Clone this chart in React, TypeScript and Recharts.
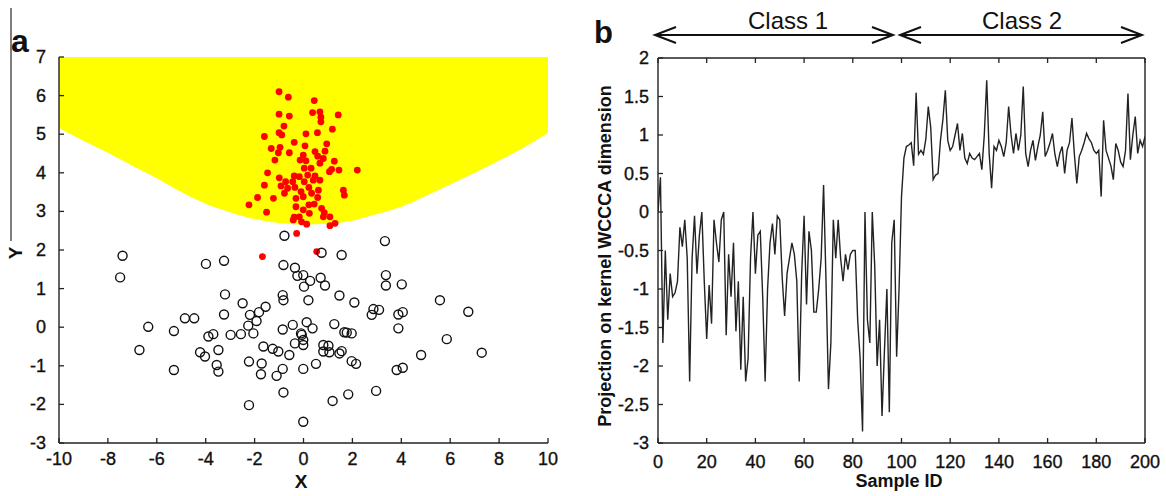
import React from 'react';
import { ComposedChart, LineChart, Line, Area, Scatter, XAxis, YAxis } from 'recharts';

const FONT = '"Liberation Sans", Arial, Helvetica, sans-serif';

// ---- panel a: decision region + two classes ----
const regionX = [-10, -9, -8, -7, -6, -5, -4, -3, -2, -1, 0, 1, 2, 3, 4, 5, 6, 7, 8, 9, 10];
const regionLow = [5.16, 4.83, 4.52, 4.18, 3.86, 3.5, 3.2, 2.98, 2.8, 2.7, 2.66, 2.68, 2.76, 2.93, 3.12, 3.4, 3.7, 4.0, 4.32, 4.65, 5.03];
const regionHigh = 7;

const redPoints: [number, number][] = [
  [-1.0, 6.1], [-0.62, 5.96], [0.44, 5.87], [-1.0, 5.52], [-0.58, 5.47], [0.37, 5.56], [0.67, 5.58],
  [0.71, 5.44], [0.71, 5.32], [1.42, 5.5], [-0.8, 5.21], [-1.0, 5.04], [-0.89, 4.98], [-1.6, 4.94],
  [0.1, 5.01], [0.57, 5.04], [1.18, 5.13], [-0.38, 4.79], [-1.32, 4.63], [-0.96, 4.66], [0.06, 4.7],
  [0.95, 4.75], [-1.03, 4.52], [-0.58, 4.52], [0.47, 4.55], [0.88, 4.56], [-0.01, 4.46], [0.58, 4.43],
  [-1.17, 4.33], [-0.14, 4.33], [0.1, 4.31], [0.81, 4.37], [1.26, 4.3], [0.67, 4.25], [0.03, 4.12],
  [0.31, 4.12], [1.15, 4.09], [-1.47, 4.0], [1.06, 4.03], [1.45, 4.07], [2.2, 4.07], [-0.99, 3.87],
  [-0.38, 3.92], [-0.17, 3.9], [0.17, 3.94], [0.47, 3.92], [0.67, 3.81], [-0.73, 3.77], [-0.44, 3.77],
  [0.03, 3.77], [0.4, 3.81], [-1.6, 3.68], [-0.92, 3.66], [-0.65, 3.6], [-0.35, 3.62], [0.22, 3.62],
  [0.61, 3.55], [1.63, 3.55], [-0.78, 3.47], [-0.1, 3.51], [0.33, 3.47], [1.67, 3.42], [-1.88, 3.36],
  [-1.23, 3.34], [-0.31, 3.34], [-0.01, 3.38], [0.58, 3.36], [-2.23, 3.17], [-0.31, 3.12], [0.22, 3.17],
  [0.44, 3.19], [0.74, 3.08], [-1.51, 2.98], [-0.01, 3.04], [0.24, 2.95], [0.85, 2.97], [-0.38, 2.85],
  [-0.17, 2.86], [0.81, 2.86], [1.08, 2.86], [-0.42, 2.78], [-0.08, 2.73], [0.13, 2.67], [1.08, 2.63],
  [1.29, 2.69], [-0.28, 2.43], [-1.68, 1.83], [0.54, 1.96],
];

const blackPoints: [number, number][] = [
  [-7.4, 1.85], [-7.5, 1.29], [-3.99, 1.64], [-3.25, 1.72], [-0.78, 2.37], [-0.82, 1.61], [-0.35, 1.54],
  [-0.25, 1.33], [-3.21, 0.85], [-2.49, 0.62], [-1.55, 0.53], [-0.85, 0.83], [-0.82, 0.7], [-3.25, 0.33],
  [-2.19, 0.32], [-1.82, 0.39], [-1.92, 0.16], [-2.26, 0.04], [-2.05, -0.16], [-4.85, 0.23], [-4.47, 0.23],
  [-6.35, 0.01], [-5.3, -0.1], [-6.71, -0.59], [-5.3, -1.11], [-3.89, -0.24], [-3.69, -0.18], [-2.98, -0.2],
  [-2.56, -0.18], [-4.23, -0.65], [-4.03, -0.76], [-3.48, -0.59], [-3.55, -0.98], [-3.48, -1.15],
  [-2.23, -0.89], [-1.71, -0.94], [-1.74, -1.22], [-1.64, -0.5], [-1.26, -0.56], [-1.03, -0.63],
  [-0.58, -0.72], [-0.85, -1.08], [-1.1, -1.26], [-0.82, -1.69], [-2.23, -2.02], [-0.85, -0.06],
  [-0.44, 0.06], [-0.1, -0.16], [-0.35, -0.42],
  [3.33, 2.23], [0.74, 1.93], [1.56, 1.87], [-0.01, 1.35], [0.27, 1.2], [0.7, 1.28], [0.88, 1.08],
  [0.02, 1.05], [3.37, 1.35], [3.37, 1.08], [4.02, 1.11], [0.2, 0.7], [1.47, 0.82], [2.08, 0.64],
  [2.86, 0.47], [3.09, 0.45], [2.79, 0.32], [3.88, 0.33], [4.06, 0.39], [3.88, -0.03], [5.58, 0.7],
  [6.74, 0.4], [0.13, 0.13], [0.37, -0.03], [1.26, 0.08], [1.67, -0.13], [1.77, -0.14], [1.97, -0.16],
  [-0.07, -0.2], [-0.01, -0.33], [-0.01, -0.46], [0.81, -0.46], [1.02, -0.48], [0.81, -0.63], [1.06, -0.65],
  [1.47, -0.68], [1.56, -0.62], [5.86, -0.31], [7.29, -0.66], [4.81, -0.72], [-0.01, -1.08], [0.51, -0.95],
  [1.97, -0.88], [2.15, -0.95], [3.81, -1.11], [4.06, -1.05], [2.97, -1.65], [1.83, -1.74], [1.19, -1.91],
  [-0.01, -2.45],
];

const xTicksA = [-10, -8, -6, -4, -2, 0, 2, 4, 6, 8, 10];
const yTicksA = [-3, -2, -1, 0, 1, 2, 3, 4, 5, 6, 7];

// ---- panel b: projection per sample ----
const class1Proj = [
  0.0, 0.45, -1.7, -0.5, -1.4, -0.8, -1.1, -1.05, -0.9, -0.2,
  -0.45, -0.1, -0.6, -2.2, -0.6, -0.05, -0.8, -0.3, 0.0, -0.9,
  -1.65, -0.95, -1.45, -0.1, -0.4, -0.65, -0.1, 0.0, -1.6, -0.55,
  -1.1, -0.4, -1.55, -0.9, -2.05, -1.1, -2.2, -1.9, -0.6, 0.0,
  -0.8, -0.3, -0.25, -1.1, -2.2, -1.0, -0.4, -0.15, -0.55, -0.05,
  -0.1, -0.85, -1.35, -0.8, -0.6, -0.4, -0.55, -0.9, -2.2, -0.8,
  -0.05, -1.2, -0.25, -0.5, -1.3, -1.3, -1.0, -0.6, 0.35, -0.9,
  -2.3, -1.7, -0.1, -0.6, -0.1, -0.6, -0.9, -0.55, -0.75, -0.55,
  -0.5, -0.5, -1.4, -1.9, -2.85, 0.0, -1.4, -1.7, 0.0, -0.7,
  -2.0, -1.4, -2.65, -1.8, -1.0, -2.6, -0.4, -0.1, -1.88, -1.0,
];
const class2Proj = [
  0.2, 0.7, 0.85, 0.87, 0.9, 0.6, 1.55, 0.75, 0.8, 0.75,
  0.95, 1.37, 1.1, 0.42, 0.48, 0.5, 0.93, 1.2, 1.58, 0.93,
  0.8, 0.85, 1.0, 1.15, 0.8, 1.02, 0.7, 0.63, 0.76, 0.7,
  0.68, 0.72, 0.76, 0.55, 1.0, 1.71, 0.76, 0.31, 0.85, 0.8,
  0.93, 0.85, 0.72, 0.9, 1.37, 1.0, 0.76, 1.02, 0.8, 1.0,
  1.63, 0.76, 0.59, 0.8, 0.93, 0.67, 0.85, 1.0, 1.3, 0.72,
  0.8, 0.9, 1.02, 0.75, 0.59, 0.76, 0.85, 0.5, 0.8, 0.9,
  1.22, 0.75, 0.37, 0.72, 0.8, 0.9, 1.02, 0.95, 0.9, 0.8,
  0.76, 0.8, 0.2, 1.19, 0.8, 0.7, 0.6, 0.42, 0.89, 0.8,
  0.65, 0.59, 0.8, 1.54, 0.68, 1.0, 1.24, 0.76, 0.93, 0.85,
  0.98,
];
const xTicksB = [0, 20, 40, 60, 80, 100, 120, 140, 160, 180, 200];
const yTicksB = [-3, -2.5, -2, -1.5, -1, -0.5, 0, 0.5, 1, 1.5, 2];

const regionData = regionX.map((x, i) => ({ x, low: regionLow[i], high: regionHigh }));
const redData = redPoints.map(([x, y]) => ({ x, y }));
const blackData = blackPoints.map(([x, y]) => ({ x, y }));
const projection = [...class1Proj, ...class2Proj];
const lineData = projection.map((v, i) => ({ id: i, v }));

const AXIS = '#222';
// tick labels look medium-weight in the original, a thin stroke thickens them a bit
const txt = { fontFamily: FONT, fontSize: 18, fill: '#111', stroke: '#111', strokeWidth: 0.35 };

const bottomTick = (gap: number, len: number, label = true) => (p: any) => (
  <g>
    <line x1={p.x} y1={p.y} x2={p.x} y2={p.y - len} stroke={AXIS} strokeWidth={1.3} />
    {label && (
      <text x={p.x} y={p.y + gap} textAnchor="middle" dominantBaseline="central" {...txt}>
        {p.payload.value}
      </text>
    )}
  </g>
);
const leftTick = (gap: number, len: number) => (p: any) => (
  <g>
    <line x1={p.x} y1={p.y} x2={p.x + len} y2={p.y} stroke={AXIS} strokeWidth={1.3} />
    <text x={p.x - gap} y={p.y} textAnchor="end" dominantBaseline="central" {...txt}>
      {p.payload.value}
    </text>
  </g>
);
const topTick = (len: number) => (p: any) => (
  <line x1={p.x} y1={p.y} x2={p.x} y2={p.y + len} stroke={AXIS} strokeWidth={1.3} />
);
const rightTick = (len: number) => (p: any) => (
  <line x1={p.x} y1={p.y} x2={p.x - len} y2={p.y} stroke={AXIS} strokeWidth={1.3} />
);

const RedDot = (p: any) => <circle cx={p.cx} cy={p.cy} r={3.4} fill="#ff0000" />;
const OpenCircle = (p: any) => (
  <circle cx={p.cx} cy={p.cy} r={4.5} fill="none" stroke="#111" strokeWidth={1.4} />
);

function DoubleArrow({ x1, x2, y }: { x1: number; x2: number; y: number }) {
  return (
    <g stroke="#111" strokeWidth={2} fill="none">
      <line x1={x1} y1={y} x2={x2} y2={y} />
      <polyline points={`${x1 + 21},${y - 8} ${x1},${y} ${x1 + 21},${y + 8}`} />
      <polyline points={`${x2 - 21},${y - 8} ${x2},${y} ${x2 - 21},${y + 8}`} />
    </g>
  );
}

export default function App() {
  return (
    <div
      style={{
        position: 'absolute',
        left: 0,
        top: 0,
        width: 1166,
        height: 496,
        background: '#fff',
        overflow: 'hidden',
        fontFamily: FONT,
      }}
    >
      <div style={{ position: 'absolute', left: 0, top: 0 }}>
        <ComposedChart width={560} height={496} data={regionData} margin={{ top: 57, right: 12, left: 0, bottom: 23 }}>
          <XAxis
            type="number"
            dataKey="x"
            domain={[-10, 10]}
            ticks={xTicksA}
            interval={0}
            allowDataOverflow
            height={30}
            tickSize={0}
            tickMargin={0}
            stroke={AXIS}
            strokeWidth={1.4}
            tick={bottomTick(16, 5)}
          />
          <YAxis
            type="number"
            dataKey="y"
            domain={[-3, 7]}
            ticks={yTicksA}
            interval={0}
            allowDataOverflow
            width={59}
            tickSize={0}
            tickMargin={0}
            stroke={AXIS}
            strokeWidth={1.4}
            tick={leftTick(13, 5)}
          />
          <Area
            type="monotone"
            dataKey={(d: any) => [d.low, d.high]}
            stroke="none"
            fill="#ffff00"
            fillOpacity={1}
            isAnimationActive={false}
          />
          <Scatter data={redData} shape={RedDot} isAnimationActive={false} />
          <Scatter data={blackData} shape={OpenCircle} isAnimationActive={false} />
        </ComposedChart>
      </div>

      <div style={{ position: 'absolute', left: 570, top: 0 }}>
        <LineChart width={596} height={496} data={lineData} margin={{ top: 57, right: 20, left: 0, bottom: 23 }}>
          <XAxis
            type="number"
            dataKey="id"
            domain={[0, 200]}
            ticks={xTicksB}
            interval={0}
            allowDataOverflow
            height={30}
            tickSize={0}
            tickMargin={0}
            stroke={AXIS}
            strokeWidth={1.4}
            tick={bottomTick(19, 5)}
          />
          <XAxis
            xAxisId="top"
            orientation="top"
            type="number"
            dataKey="id"
            domain={[0, 200]}
            ticks={xTicksB}
            interval={0}
            height={1}
            tickSize={0}
            tickMargin={0}
            stroke={AXIS}
            strokeWidth={1.4}
            tick={topTick(5)}
          />
          <YAxis
            type="number"
            domain={[-3, 2]}
            ticks={yTicksB}
            interval={0}
            allowDataOverflow
            width={88}
            tickSize={0}
            tickMargin={0}
            stroke={AXIS}
            strokeWidth={1.4}
            tick={leftTick(9, 5)}
          />
          <YAxis
            yAxisId="right"
            orientation="right"
            type="number"
            domain={[-3, 2]}
            ticks={yTicksB}
            interval={0}
            width={1}
            tickSize={0}
            tickMargin={0}
            stroke={AXIS}
            strokeWidth={1.4}
            tick={rightTick(5)}
          />
          <Line
            type="linear"
            dataKey="v"
            stroke="#222"
            strokeWidth={1.4}
            dot={false}
            isAnimationActive={false}
          />
        </LineChart>
      </div>

      <svg width={1166} height={496} style={{ position: 'absolute', left: 0, top: 0, pointerEvents: 'none' }}>
        <line x1={11} y1={8} x2={11} y2={241} stroke="#555" strokeWidth={1.5} />
        <text x={11} y={52} fontFamily={FONT} fontSize={32} fontWeight="bold" fill="#111">a</text>
        <text x={594} y={43} fontFamily={FONT} fontSize={31} fontWeight="bold" fill="#111">b</text>
        <text x={301} y={488} textAnchor="middle" fontFamily={FONT} fontSize={19} fontWeight="bold" fill="#111">X</text>
        <text
          x={0}
          y={0}
          transform="translate(22 253) rotate(-90)"
          textAnchor="middle"
          fontFamily={FONT}
          fontSize={19}
          fontWeight="bold"
          fill="#111"
        >
          Y
        </text>
        <text
          x={0}
          y={0}
          transform="translate(611 256) rotate(-90)"
          textAnchor="middle"
          fontFamily={FONT}
          fontSize={18}
          fontWeight="bold"
          fill="#111"
        >
          Projection on kernel WCCCA dimension
        </text>
        <text x={899} y={487} textAnchor="middle" fontFamily={FONT} fontSize={18} fontWeight="bold" fill="#111">
          Sample ID
        </text>
        <text x={788} y={29} textAnchor="middle" fontFamily={FONT} fontSize={24} fill="#111">Class 1</text>
        <text x={1022} y={29} textAnchor="middle" fontFamily={FONT} fontSize={24} fill="#111">Class 2</text>
        <DoubleArrow x1={655} x2={893} y={35} />
        <DoubleArrow x1={900} x2={1142} y={35} />
      </svg>
    </div>
  );
}
